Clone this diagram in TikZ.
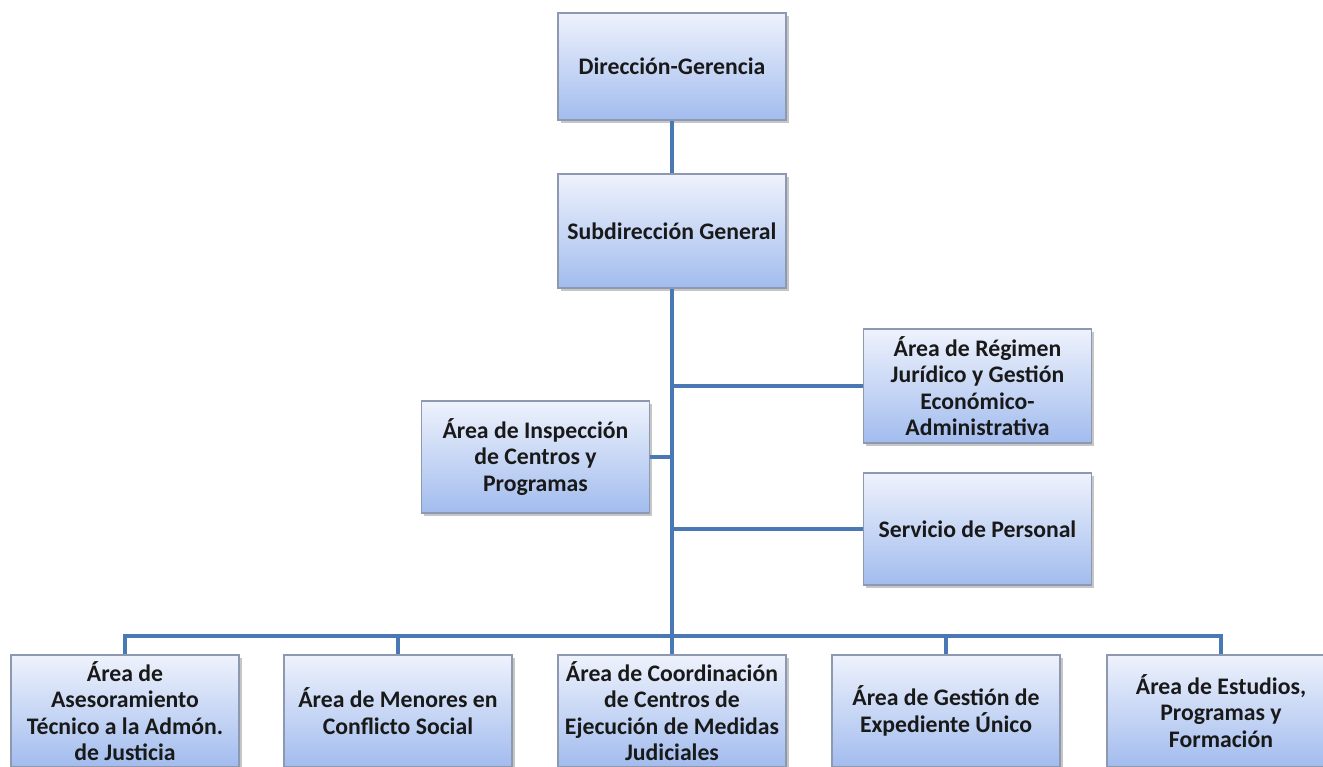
\documentclass[tikz,border=0pt]{standalone}
\usepackage{fontspec}
\setmainfont{Carlito}
\usepackage{xcolor}
\usepackage{tikz}
\usetikzlibrary{shadows}

\definecolor{boxtop}{HTML}{EEF2FC}
\definecolor{boxbot}{HTML}{A2BCEE}
\definecolor{boxline}{HTML}{8C99B0}
\definecolor{linkblue}{HTML}{4A78B4}

\begin{document}
\begin{tikzpicture}[
    orgbox/.style={draw=boxline, line width=0.6pt, top color=boxtop, bottom color=boxbot,
        minimum width=4.56cm, minimum height=2.2cm, align=center, inner sep=1pt,
        font=\fontsize{13.5}{15}\selectfont\bfseries, text=black!90,
        drop shadow={shadow xshift=0.5mm, shadow yshift=-0.6mm, fill=black!50, opacity=0.45}},
    link/.style={draw=linkblue, line width=2.5pt}
]
    \clip (0,0) rectangle (26.46,-15.34);

    \node[orgbox, minimum height=2.14cm] (dir) at (13.44, -1.33) {Dirección-Gerencia};
    \node[orgbox, minimum height=2.28cm] (sub) at (13.44, -4.62) {Subdirección General};

    \node[orgbox, minimum height=2.28cm] (reg) at (19.55, -7.72) {Área de Régimen\\Jurídico y Gestión\\Económico-\\Administrativa};
    \node[orgbox, minimum height=2.24cm] (insp) at (10.71, -9.14) {Área de Inspección\\de Centros y\\Programas};
    \node[orgbox, minimum height=2.24cm] (serv) at (19.55, -10.58) {Servicio de Personal};

    \node[orgbox, minimum height=2.24cm] (a1) at (2.50, -14.22) {Área de\\Asesoramiento\\Técnico a la Admón.\\de Justicia};
    \node[orgbox, minimum height=2.24cm] (a2) at (7.96, -14.22) {Área de Menores en\\Conflicto Social};
    \node[orgbox, minimum height=2.24cm] (a3) at (13.44, -14.22) {Área de Coordinación\\de Centros de\\Ejecución de Medidas\\Judiciales};
    \node[orgbox, minimum height=2.24cm] (a4) at (18.92, -14.22) {Área de Gestión de\\Expediente Único};
    \node[orgbox, minimum height=2.24cm] (a5) at (24.42, -14.22) {Área de Estudios,\\Programas y\\Formación};

    \coordinate (bar) at (13.44, -12.72);

    \draw[link] (dir) -- (sub);
    \draw[link] (sub) -- (a3);
    \draw[link] (reg.west) -- (reg.west -| sub.south);
    \draw[link] (serv.west) -- (serv.west -| sub.south);
    \draw[link] (insp.east) -- (insp.east -| sub.south);
    \draw[link] (a1.north) |- (bar) -| (a5.north);
    \draw[link] (a2.north) -- (a2.north |- bar);
    \draw[link] (a4.north) -- (a4.north |- bar);

\end{tikzpicture}
\end{document}
